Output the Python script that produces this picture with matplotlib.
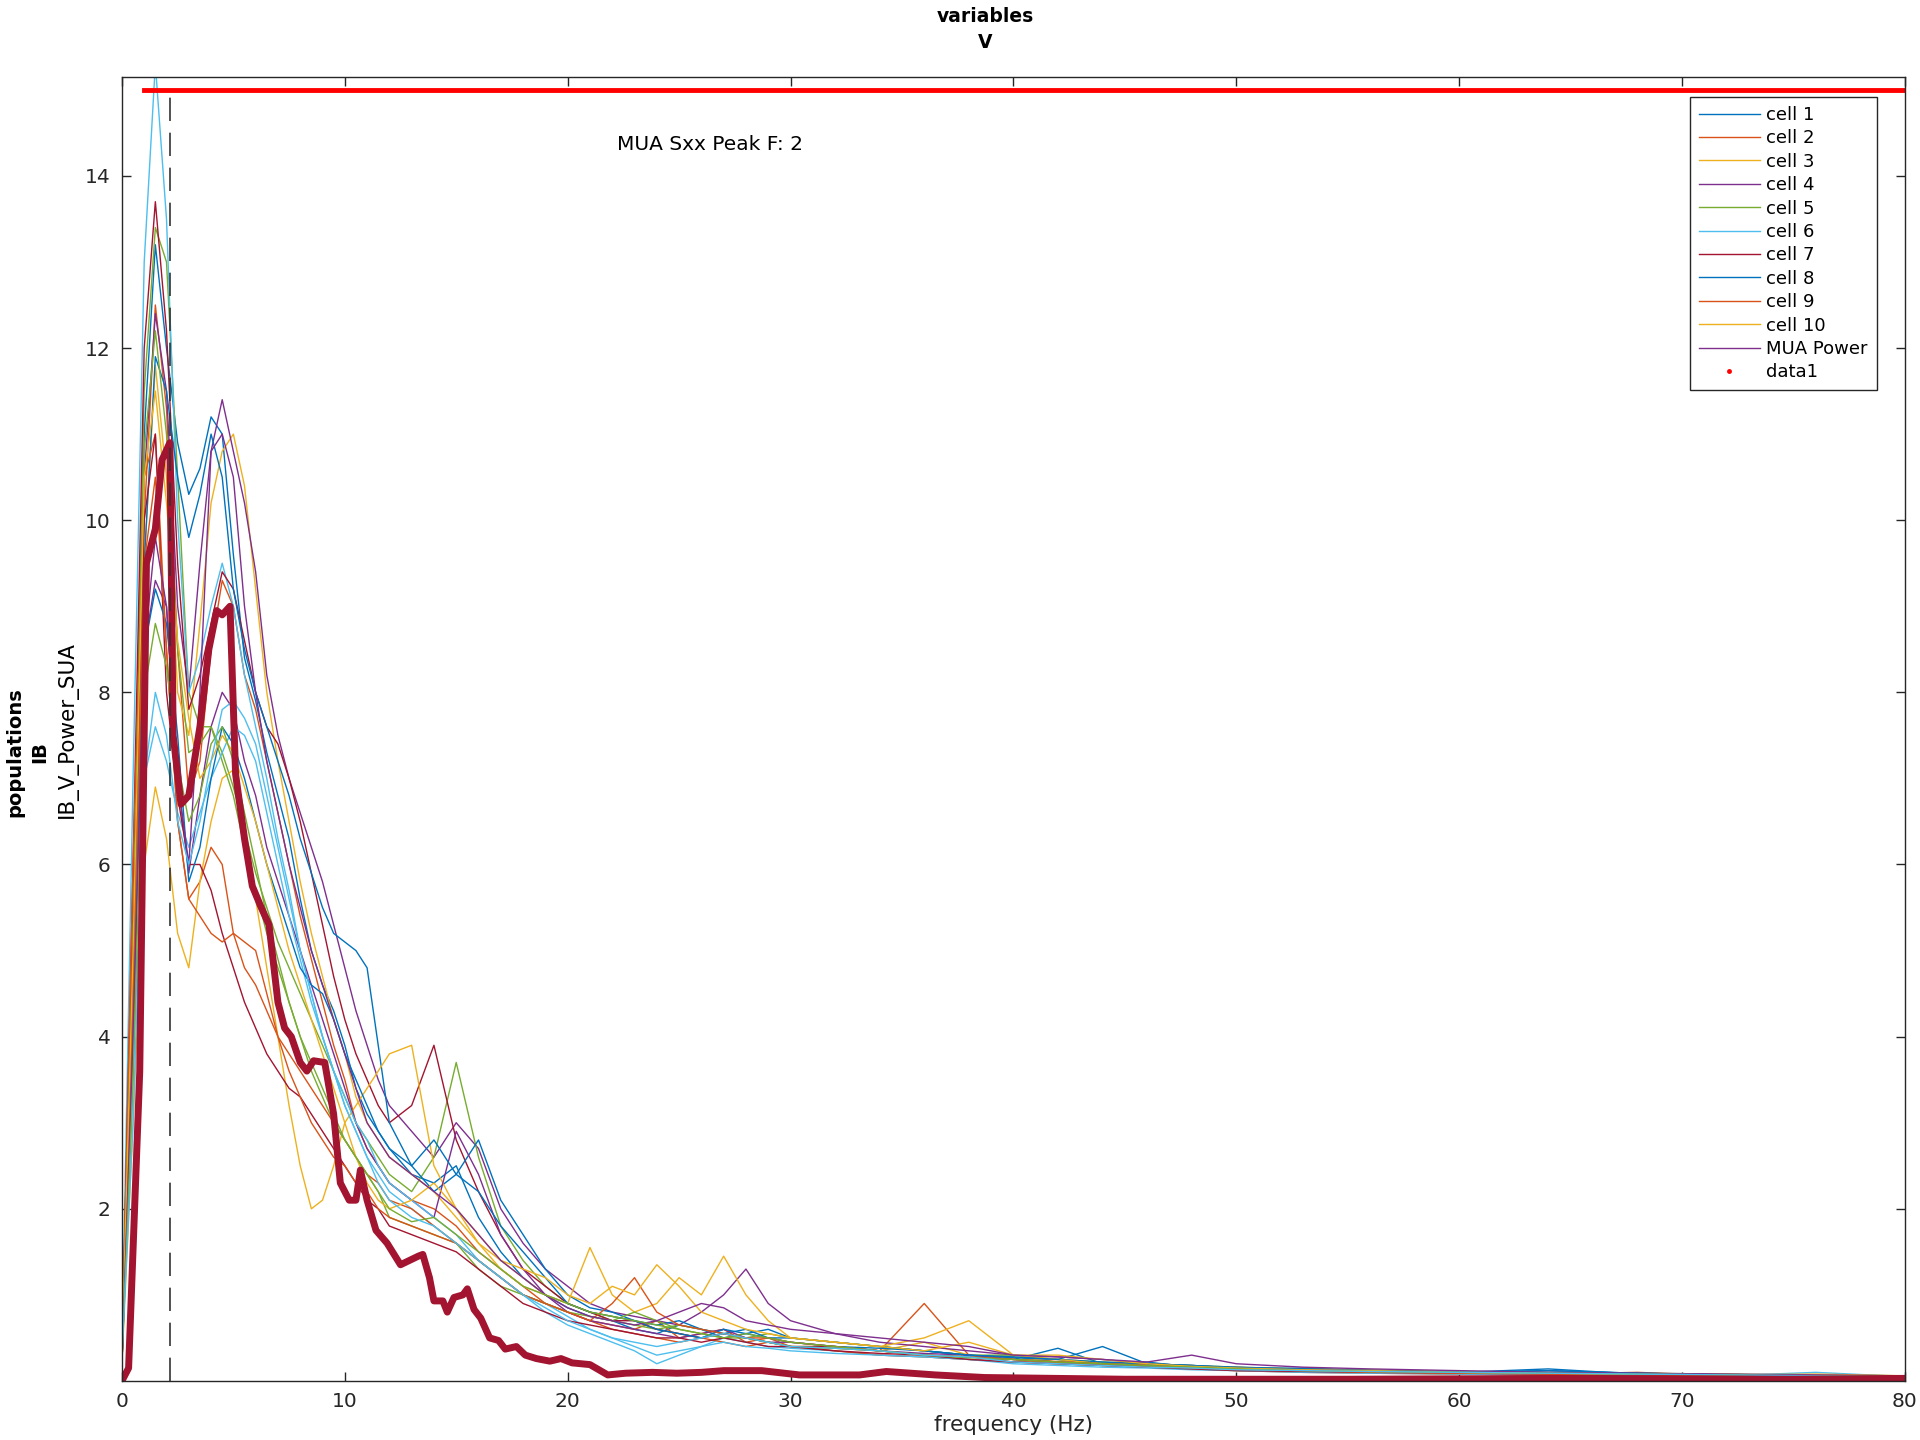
import matplotlib
matplotlib.use("Agg")  # headless
import matplotlib.pyplot as plt
from matplotlib.lines import Line2D

# frequency grid (Hz) shared by the single-cell spectra
freq = [0, 0.5, 1, 1.5, 2, 2.5, 3, 3.5, 4, 4.5, 5, 5.5, 6, 6.5, 7, 7.5, 8, 8.5, 9, 9.5,
        10, 10.5, 11, 11.5, 12,
        13, 14, 15, 16, 17, 18, 19, 20, 21, 22, 23, 24, 25, 26, 27, 28, 29, 30,
        32, 34, 36, 38, 40, 42, 44, 46, 48, 50, 53, 56, 60, 64, 68, 72, 76, 80]

cell1 = [0.3, 5.0, 11.0, 13.2, 12.0, 10.9, 10.3, 10.6, 11.2, 11.0, 9.6, 8.4, 7.9, 7.3, 6.8, 6.3, 5.6, 5.0, 4.6, 4.3, 3.9, 3.4, 3.1, 2.9, 2.7,
         2.4, 2.3, 2.5, 1.9, 1.5, 1.2, 1.0, 0.85, 0.75, 0.7, 0.6, 0.55, 0.65, 0.6, 0.5, 0.55, 0.6, 0.5,
         0.45, 0.4, 0.35, 0.3, 0.25, 0.38, 0.2, 0.22, 0.16, 0.14, 0.15, 0.12, 0.1, 0.14, 0.08, 0.07, 0.06, 0.05]
cell2 = [0.2, 4.0, 10.0, 12.5, 11.3, 8.5, 6.8, 7.2, 8.5, 9.3, 9.0, 8.2, 7.8, 7.2, 6.6, 6.0, 5.4, 4.9, 4.4, 3.9, 3.5, 3.0, 2.7, 2.5, 2.3,
         2.1, 2.0, 1.8, 1.5, 1.3, 1.1, 0.9, 0.8, 0.7, 0.65, 0.6, 0.7, 0.5, 0.55, 0.6, 0.45, 0.5, 0.4,
         0.38, 0.35, 0.9, 0.3, 0.22, 0.25, 0.18, 0.2, 0.15, 0.16, 0.12, 0.1, 0.09, 0.08, 0.1, 0.06, 0.05, 0.06]
cell3 = [0.3, 3.5, 9.5, 11.8, 10.5, 8.0, 7.5, 8.8, 10.2, 10.8, 11.0, 10.4, 9.2, 8.0, 7.2, 6.5, 5.8, 5.2, 4.7, 4.2, 3.8, 3.3, 3.0, 2.8, 2.6,
         2.4, 2.2, 1.9, 1.6, 1.4, 1.2, 1.0, 0.9, 0.8, 0.75, 0.7, 0.6, 0.55, 0.5, 0.55, 0.5, 0.45, 0.4,
         0.4, 0.35, 0.45, 0.3, 0.28, 0.22, 0.2, 0.18, 0.16, 0.12, 0.13, 0.1, 0.08, 0.07, 0.06, 0.08, 0.05, 0.06]
cell4 = [0.2, 4.5, 10.5, 12.4, 11.5, 9.0, 8.0, 9.5, 10.8, 11.4, 10.8, 10.2, 9.4, 8.2, 7.5, 7.0, 6.6, 6.2, 5.8, 5.3, 4.8, 4.3, 3.9, 3.5, 3.2,
         2.9, 2.6, 3.0, 2.7, 2.0, 1.6, 1.3, 1.1, 0.9, 0.8, 0.75, 0.7, 0.65, 0.8, 1.0, 1.3, 0.9, 0.7,
         0.55, 0.45, 0.4, 0.35, 0.3, 0.28, 0.25, 0.2, 0.18, 0.15, 0.14, 0.12, 0.1, 0.09, 0.08, 0.07, 0.06, 0.05]
cell5 = [0.3, 5.5, 11.5, 13.4, 13.0, 10.5, 8.0, 7.6, 7.6, 7.3, 6.9, 6.4, 5.9, 5.5, 5.1, 4.8, 4.5, 4.2, 3.9, 3.6, 3.3, 3.0, 2.8, 2.6, 2.4,
         2.2, 2.6, 3.7, 2.6, 1.8, 1.4, 1.1, 0.9, 0.8, 0.7, 0.65, 0.6, 0.65, 0.6, 0.55, 0.5, 0.55, 0.5,
         0.45, 0.4, 0.35, 0.3, 0.3, 0.25, 0.22, 0.2, 0.18, 0.16, 0.14, 0.13, 0.11, 0.1, 0.09, 0.08, 0.07, 0.06]
cell6 = [0.4, 7.0, 13.0, 15.3, 13.5, 10.0, 8.0, 8.4, 9.0, 9.5, 9.0, 8.2, 7.6, 7.0, 6.3, 5.7, 5.0, 4.5, 4.0, 3.6, 3.2, 2.9, 2.6, 2.4, 2.2,
         2.0, 1.8, 1.6, 1.4, 1.2, 1.0, 0.9, 0.75, 0.6, 0.5, 0.4, 0.3, 0.35, 0.4, 0.5, 0.45, 0.4, 0.38,
         0.35, 0.3, 0.28, 0.25, 0.22, 0.2, 0.18, 0.16, 0.15, 0.13, 0.12, 0.1, 0.09, 0.08, 0.07, 0.06, 0.1, 0.05]
cell7 = [0.3, 6.0, 12.0, 13.7, 12.2, 9.5, 7.8, 8.2, 8.8, 9.4, 9.2, 8.6, 8.0, 7.6, 7.4, 7.0, 6.5, 5.9, 5.3, 4.7, 4.2, 3.8, 3.5, 3.2, 3.0,
         3.2, 3.9, 2.8, 2.2, 1.7, 1.3, 1.1, 0.9, 0.8, 0.7, 0.7, 0.6, 0.55, 0.5, 0.55, 0.5, 0.45, 0.4,
         0.4, 0.35, 0.3, 0.28, 0.25, 0.22, 0.2, 0.17, 0.15, 0.13, 0.12, 0.1, 0.09, 0.08, 0.07, 0.06, 0.05, 0.05]
cell8 = [0.2, 4.0, 9.5, 11.9, 11.5, 10.5, 9.8, 10.3, 11.0, 10.5, 9.2, 8.5, 8.0, 7.6, 7.2, 6.8, 6.3, 5.9, 5.5, 5.2, 5.1, 5.0, 4.8, 3.9, 3.0,
         2.5, 2.2, 2.4, 2.8, 2.1, 1.7, 1.3, 1.0, 0.85, 0.8, 0.7, 0.65, 0.7, 0.6, 0.55, 0.6, 0.5, 0.5,
         0.45, 0.4, 0.35, 0.3, 0.27, 0.25, 0.22, 0.2, 0.18, 0.16, 0.14, 0.12, 0.1, 0.12, 0.09, 0.07, 0.06, 0.06]
cell9 = [0.2, 6.0, 10.5, 11.0, 8.5, 6.5, 5.6, 5.8, 6.2, 6.0, 5.2, 4.8, 4.6, 4.3, 4.0, 3.8, 3.6, 3.4, 3.2, 3.0, 2.8, 2.6, 2.4, 2.3, 2.1,
         2.0, 1.8, 1.6, 1.4, 1.2, 1.0, 0.9, 0.8, 0.7, 0.6, 0.55, 0.5, 0.45, 0.5, 0.45, 0.4, 0.45, 0.4,
         0.35, 0.3, 0.28, 0.25, 0.22, 0.2, 0.18, 0.16, 0.14, 0.12, 0.1, 0.09, 0.08, 0.07, 0.06, 0.05, 0.05, 0.04]
cell10 = [0.2, 3.0, 6.0, 6.9, 6.3, 5.2, 4.8, 5.8, 6.5, 7.0, 7.1, 6.4, 5.6, 4.8, 4.0, 3.2, 2.5, 2.0, 2.1, 2.5, 3.0, 3.2, 3.4, 3.6, 3.8,
          3.9, 2.5, 2.0, 1.6, 1.3, 1.1, 1.0, 0.9, 1.55, 1.0, 0.8, 0.9, 1.2, 1.0, 1.45, 1.0, 0.7, 0.5,
          0.45, 0.4, 0.5, 0.7, 0.3, 0.25, 0.2, 0.18, 0.15, 0.13, 0.12, 0.1, 0.09, 0.08, 0.07, 0.06, 0.05, 0.05]
cell11 = [0.2, 4.0, 8.5, 9.3, 9.0, 7.0, 5.9, 6.8, 7.6, 8.0, 7.8, 7.2, 6.8, 6.2, 5.8, 5.4, 5.0, 4.6, 4.2, 3.8, 3.4, 3.0, 2.7, 2.5, 2.3,
          2.1, 1.9, 2.9, 2.4, 1.7, 1.3, 1.0, 0.8, 0.7, 0.65, 0.6, 0.55, 0.5, 0.55, 0.6, 0.5, 0.45, 0.45,
          0.4, 0.35, 0.32, 0.3, 0.25, 0.22, 0.2, 0.18, 0.16, 0.14, 0.12, 0.11, 0.1, 0.09, 0.08, 0.07, 0.06, 0.05]
cell12 = [0.3, 5.0, 10.8, 12.2, 11.0, 8.5, 7.3, 7.4, 7.6, 7.2, 6.8, 6.2, 5.7, 5.2, 4.8, 4.4, 4.0, 3.6, 3.3, 3.0, 2.8, 2.6, 2.4, 2.2, 1.9,
          1.8, 1.7, 1.6, 1.3, 1.1, 1.0, 0.9, 0.8, 0.75, 0.7, 0.8, 0.7, 0.6, 0.55, 0.5, 0.5, 0.45, 0.4,
          0.38, 0.35, 0.3, 0.28, 0.25, 0.22, 0.2, 0.17, 0.15, 0.13, 0.12, 0.1, 0.09, 0.08, 0.07, 0.06, 0.06, 0.05]
cell13 = [0.3, 3.5, 7.0, 7.6, 7.2, 6.6, 6.2, 6.6, 7.0, 7.3, 7.6, 7.5, 7.2, 6.6, 6.0, 5.4, 4.9, 4.4, 4.0, 3.6, 3.3, 3.0, 2.8, 2.5, 2.3,
          2.1, 1.9, 1.7, 1.4, 1.2, 1.0, 0.8, 0.65, 0.55, 0.45, 0.35, 0.2, 0.3, 0.4, 0.45, 0.4, 0.38, 0.35,
          0.32, 0.3, 0.28, 0.25, 0.2, 0.18, 0.16, 0.15, 0.13, 0.12, 0.1, 0.09, 0.08, 0.07, 0.06, 0.05, 0.05, 0.04]
cell14 = [0.2, 5.0, 10.0, 11.0, 8.0, 6.8, 6.0, 6.0, 5.7, 5.2, 4.8, 4.4, 4.1, 3.8, 3.6, 3.4, 3.3, 3.1, 2.9, 2.7, 2.5, 2.3, 2.1, 2.0, 1.8,
          1.7, 1.6, 1.5, 1.3, 1.1, 0.9, 0.8, 0.7, 0.65, 0.6, 0.55, 0.5, 0.5, 0.45, 0.5, 0.45, 0.4, 0.4,
          0.35, 0.32, 0.3, 0.25, 0.22, 0.2, 0.18, 0.16, 0.14, 0.12, 0.11, 0.1, 0.09, 0.08, 0.07, 0.06, 0.05, 0.05]
cell15 = [0.2, 4.5, 8.5, 9.2, 8.8, 7.5, 5.8, 6.2, 7.0, 7.6, 7.4, 7.0, 6.5, 6.0, 5.6, 5.2, 4.8, 4.6, 4.5, 4.2, 3.8, 3.5, 3.2, 2.9, 2.7,
          2.5, 2.8, 2.4, 2.2, 1.8, 1.5, 1.2, 0.9, 0.8, 0.75, 0.7, 0.6, 0.55, 0.5, 0.6, 0.55, 0.5, 0.45,
          0.4, 0.38, 0.35, 0.3, 0.28, 0.25, 0.4, 0.2, 0.18, 0.15, 0.14, 0.12, 0.1, 0.12, 0.09, 0.07, 0.06, 0.05]
cell16 = [0.2, 4.5, 9.5, 10.5, 8.5, 6.5, 5.6, 5.4, 5.2, 5.1, 5.2, 5.1, 5.0, 4.5, 4.0, 3.6, 3.3, 3.0, 2.8, 2.6, 2.5, 2.3, 2.2, 2.0, 1.9,
          1.8, 1.7, 1.6, 1.4, 1.2, 1.0, 0.9, 0.8, 0.7, 0.9, 1.2, 0.8, 0.65, 0.6, 0.55, 0.5, 0.5, 0.45,
          0.4, 0.35, 0.3, 0.28, 0.25, 0.22, 0.2, 0.18, 0.15, 0.14, 0.12, 0.1, 0.09, 0.08, 0.07, 0.06, 0.05, 0.05]
cell17 = [0.3, 5.0, 10.5, 11.5, 10.2, 8.6, 7.7, 7.0, 7.2, 7.5, 7.3, 6.9, 6.5, 6.0, 5.5, 5.0, 4.6, 4.2, 3.8, 3.4, 3.0, 2.6, 2.3, 2.1, 2.0,
          2.1, 2.3, 2.0, 1.7, 1.4, 1.3, 1.2, 1.0, 0.9, 1.1, 1.0, 1.35, 1.1, 0.8, 0.7, 0.6, 0.55, 0.5,
          0.45, 0.4, 0.35, 0.45, 0.3, 0.3, 0.25, 0.2, 0.17, 0.15, 0.13, 0.12, 0.1, 0.09, 0.08, 0.07, 0.08, 0.06]
cell18 = [0.2, 4.0, 8.5, 9.8, 9.0, 7.0, 6.0, 8.0, 10.8, 11.0, 10.5, 9.0, 8.0, 7.2, 6.6, 6.0, 5.5, 5.0, 4.6, 4.2, 3.8, 3.4, 3.0, 2.8, 2.6,
          2.4, 2.2, 2.0, 1.7, 1.4, 1.2, 1.0, 0.85, 0.75, 0.7, 0.65, 0.7, 0.8, 0.9, 0.85, 0.7, 0.65, 0.6,
          0.55, 0.5, 0.45, 0.4, 0.3, 0.28, 0.25, 0.22, 0.3, 0.2, 0.16, 0.14, 0.12, 0.1, 0.09, 0.08, 0.07, 0.06]
cell19 = [0.2, 3.5, 8.0, 8.8, 8.3, 7.2, 6.5, 6.8, 7.4, 7.6, 7.2, 6.6, 6.0, 5.4, 4.9, 4.4, 4.0, 3.7, 3.4, 3.1, 2.8, 2.6, 2.4, 2.2, 2.0,
          1.85, 1.9, 1.7, 1.5, 1.3, 1.1, 1.0, 0.9, 0.8, 0.75, 0.7, 0.65, 0.6, 0.55, 0.5, 0.55, 0.5, 0.45,
          0.4, 0.35, 0.3, 0.27, 0.25, 0.22, 0.2, 0.18, 0.16, 0.14, 0.12, 0.11, 0.1, 0.09, 0.08, 0.07, 0.06, 0.06]
cell20 = [0.3, 3.0, 7.0, 8.0, 7.5, 6.5, 6.0, 6.5, 7.2, 7.8, 7.9, 7.7, 7.4, 6.8, 6.2, 5.6, 5.0, 4.5, 4.0, 3.6, 3.2, 2.9, 2.6, 2.3, 2.1,
          1.9, 1.8, 1.6, 1.4, 1.2, 1.0, 0.85, 0.7, 0.6, 0.5, 0.45, 0.4, 0.45, 0.5, 0.55, 0.5, 0.45, 0.4,
          0.38, 0.35, 0.3, 0.28, 0.22, 0.2, 0.18, 0.16, 0.15, 0.13, 0.12, 0.11, 0.1, 0.09, 0.08, 0.07, 0.06, 0.05]

cells = [cell1, cell2, cell3, cell4, cell5, cell6, cell7, cell8, cell9, cell10,
         cell11, cell12, cell13, cell14, cell15, cell16, cell17, cell18, cell19, cell20]

# population (MUA) power spectrum
mua_freq = [0, 0.3, 0.8, 1.1, 1.5, 1.8, 2.15, 2.3, 2.65, 3.0, 3.5, 3.9, 4.25, 4.5, 4.85, 5.1, 5.5, 5.85, 6.25, 6.6,
            7.0, 7.3, 7.6, 8.0, 8.3, 8.6, 9.1, 9.5, 9.8, 10.2, 10.5, 10.7, 11.0, 11.4, 11.9, 12.5, 12.9, 13.3, 13.5, 13.8,
            14.0, 14.4, 14.6, 14.9, 15.3, 15.5, 15.8, 16.1, 16.5, 16.9, 17.2, 17.7, 18.1, 18.6, 19.2, 19.7, 20.2, 21.0, 21.8, 22.6,
            23.8, 24.9, 26.0, 27.0, 28.7, 30.4, 33.1, 34.3, 36.5, 38.7, 45, 55, 65, 75, 80]
mua_power = [0, 0.15, 3.6, 9.5, 9.9, 10.7, 10.9, 7.5, 6.7, 6.8, 7.6, 8.5, 8.95, 8.9, 9.0, 7.05, 6.3, 5.75, 5.5, 5.3,
             4.4, 4.1, 4.0, 3.7, 3.6, 3.72, 3.7, 3.1, 2.3, 2.1, 2.1, 2.45, 2.1, 1.75, 1.6, 1.35, 1.4, 1.45, 1.47, 1.2,
             0.93, 0.93, 0.8, 0.97, 1.0, 1.07, 0.83, 0.73, 0.5, 0.47, 0.37, 0.4, 0.3, 0.26, 0.23, 0.26, 0.21, 0.19, 0.07, 0.09,
             0.1, 0.09, 0.1, 0.12, 0.12, 0.07, 0.07, 0.11, 0.07, 0.04, 0.02, 0.02, 0.03, 0.02, 0.03]

peak_freq = 2.15
data1_x = [1, 80]
data1_y = [15, 15]
legend_labels = [f"cell {i}" for i in range(1, 11)] + ["MUA Power", "data1"]

colors = ["#0072BD", "#D95319", "#EDB120", "#7E2F8E", "#77AC30", "#4DBEEE", "#A2142F"]
ink = "#262626"

fig = plt.figure(figsize=(19.2, 14.4), dpi=100)
ax = fig.add_axes([0.0635, 0.041, 0.9286, 0.9056])

for i, c in enumerate(cells):
    ax.plot(freq, c, color=colors[i % 7], lw=1.0)
ax.plot(mua_freq, mua_power, color="#A2142F", lw=5, solid_joinstyle="round")
ax.plot(data1_x, data1_y, color="red", lw=3.5)
ax.plot([peak_freq, peak_freq], [0, 15], color="#333333", lw=1.2, ls="--", dashes=(14, 7))
ax.text(22.2, 14.37, "MUA Sxx Peak F: 2", fontsize=14.5, va="center", ha="left")

ax.set_xlim(0, 80)
ax.set_ylim(0, 15.15)
ax.set_xticks(range(0, 81, 10))
ax.set_yticks(range(2, 15, 2))
ax.tick_params(direction="in", length=6.5, width=1, colors=ink, labelsize=14.5,
               top=True, right=True, pad=8)
for s in ax.spines.values():
    s.set_color(ink)
    s.set_linewidth(1)
ax.set_xlabel("frequency (Hz)", fontsize=15.5, color=ink, labelpad=3)

# legend: cycle colours for first 11 entries, red dot for data1
handles = [Line2D([], [], color=colors[i % 7], lw=1.0) for i in range(11)]
handles.append(Line2D([], [], color="red", marker=".", ls="none", markersize=5))
leg = ax.legend(handles, legend_labels, loc="upper right", bbox_to_anchor=(0.9843, 0.9847),
                borderaxespad=0, fontsize=13, handlelength=3.4, handletextpad=0.35,
                labelspacing=0.3, borderpad=0.5, fancybox=False, framealpha=1)
leg.get_frame().set_edgecolor(ink)
leg.get_frame().set_linewidth(1)

# titles / row labels
fig.text(985 / 1920, 1 - 17 / 1440, "variables", ha="center", va="center", fontsize=13.5, fontweight="bold")
fig.text(985 / 1920, 1 - 43 / 1440, "V", ha="center", va="center", fontsize=13.5, fontweight="bold")
fig.text(15 / 1920, 1 - 752 / 1440, "populations", rotation=90, ha="center", va="center",
         fontsize=14, fontweight="bold")
fig.text(40 / 1920, 1 - 752 / 1440, "IB", rotation=90, ha="center", va="center",
         fontsize=14, fontweight="bold")
fig.text(67 / 1920, 1 - 729 / 1440, "IB_V_Power_SUA", rotation=90, ha="center", va="center", fontsize=15.5)

fig.savefig("out.png", dpi=100)
plt.close(fig)
